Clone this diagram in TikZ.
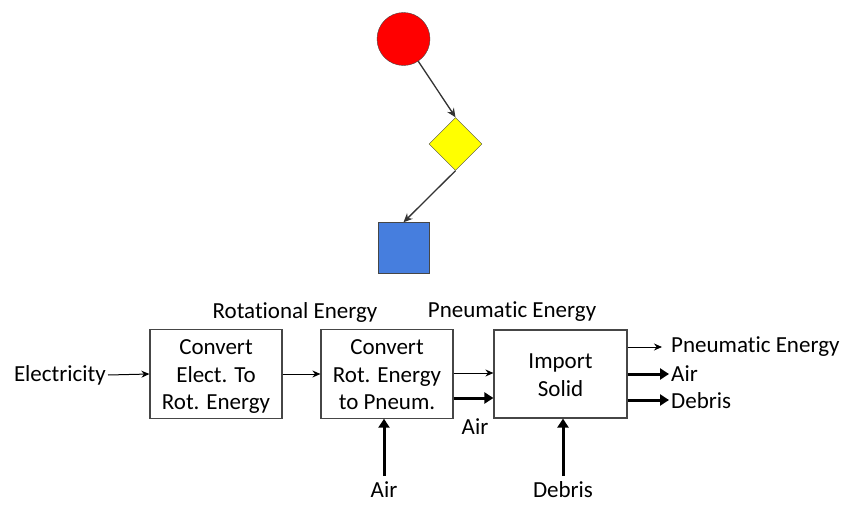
\documentclass[tikz,border=0pt]{standalone}
\usepackage{fontspec}
\setmainfont{Carlito}[Ligatures={NoCommon}]
\usetikzlibrary{shapes.geometric,arrows.meta}
\definecolor{myred}{RGB}{255,0,0}
\definecolor{myyellow}{RGB}{255,255,0}
\definecolor{myblue}{RGB}{70,126,222}
\definecolor{edge}{RGB}{70,70,70}
\newcommand{\topstrut}{\rule{0pt}{25pt}}
\begin{document}
\begin{tikzpicture}[x=1pt,y=-1pt,
  lbl/.style={inner sep=0pt,font=\fontsize{23}{27}\selectfont},
  fbox/.style={draw=edge,line width=1.2pt,minimum width=132pt,minimum height=88pt,inner sep=0pt,align=center,font=\fontsize{23}{27.5}\selectfont},
  thin/.style={line width=1pt,-{Stealth[length=8pt,width=7pt]}},
  thick/.style={line width=3pt,-{Triangle[length=9pt,width=11pt]}},
  link/.style={draw=black!80,line width=1.3pt,-{Stealth[length=9pt,width=8pt]}}]
\useasboundingbox (0,0) rectangle (843,506);
% top graph
\node[circle,draw=edge,fill=myred,minimum size=53pt,inner sep=0pt] (c) at (403.5,39) {};
\node[diamond,draw=edge,fill=myyellow,minimum size=53pt,inner sep=0pt] (d) at (455.5,144) {};
\node[rectangle,draw=edge,fill=myblue,minimum size=51pt,inner sep=0pt] (s) at (403.5,248) {};
\draw[link] (c) -- (d.north);
\draw[link] (d.south) -- (s.north);
% function boxes
\node[fbox] (b1) at (216,374) {\topstrut Convert\\Elect. To\strut\\Rot. Energy\strut};
\node[fbox] (b2) at (387,374) {\topstrut Convert\\Rot. Energy\strut\\to Pneum.\strut};
\node[fbox,minimum width=133pt] (b3) at (560.5,374) {\topstrut Import\\Solid\strut};
% labels
\node[lbl] (rot) at (295,312) {Rotational Energy};
\node[lbl] (pne) at (512,312) {Pneumatic Energy};
\node[lbl,anchor=east] (elec) at (106,375) {Electricity};
\node[lbl] (air2) at (475,427) {Air};
\node[lbl] (airb) at (384,490) {Air};
\node[lbl] (debb) at (563,490) {Debris};
\node[lbl,anchor=west] (pout) at (671,347) {Pneumatic Energy};
\node[lbl,anchor=west] (aout) at (671,374) {Air};
\node[lbl,anchor=west] (dout) at (671,401) {Debris};
% flows
\draw[thin] ([xshift=2pt]elec.east) -- (b1.west);
\draw[thin] (b1.east) -- (b2.west);
\draw[thin] (b2.east |- 0,373) -- (b3.west |- 0,373);
\draw[thick] (b2.east |- 0,398) -- (b3.west |- 0,398);
\draw[thin] (b3.east |- 0,347) -- ([xshift=-9pt]pout.west);
\draw[thick] (b3.east |- 0,374) -- ([xshift=-2pt]aout.west);
\draw[thick] (b3.east |- 0,400) -- ([xshift=-2pt]dout.west |- 0,400);
\draw[thick] (airb.north |- 0,476) -- (b2.south -| airb.north);
\draw[thick] (debb.north |- 0,476) -- (b3.south -| debb.north);
\end{tikzpicture}
\end{document}
